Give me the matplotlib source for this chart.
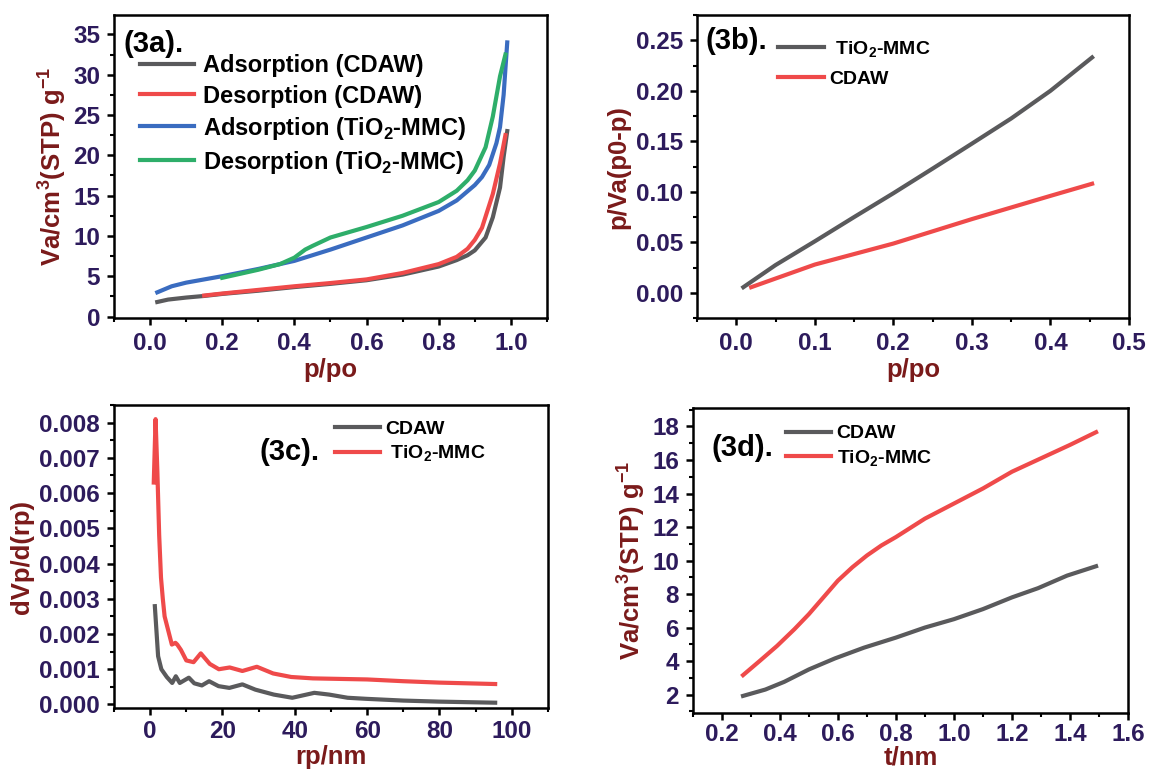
import matplotlib
matplotlib.use("Agg")
import matplotlib.pyplot as plt
from matplotlib.ticker import AutoMinorLocator

plt.rcParams['font.family'] = ['Liberation Sans', 'DejaVu Sans']
plt.rcParams['mathtext.fontset'] = 'custom'
plt.rcParams['mathtext.rm'] = 'Liberation Sans'
plt.rcParams['mathtext.bf'] = 'Liberation Sans:bold'

# ---- (3a) isotherms ----
ads_cdaw_x = [0.02, 0.05, 0.10, 0.15, 0.20, 0.30, 0.40, 0.50, 0.60, 0.70, 0.80, 0.85, 0.88, 0.90, 0.93, 0.95, 0.97, 0.98, 0.99]
ads_cdaw_y = [1.8, 2.1, 2.35, 2.55, 2.8, 3.2, 3.65, 4.05, 4.5, 5.2, 6.2, 7.0, 7.6, 8.2, 9.8, 12.3, 16.0, 19.8, 23.0]
des_cdaw_x = [0.15, 0.20, 0.30, 0.40, 0.50, 0.60, 0.70, 0.80, 0.85, 0.88, 0.90, 0.92, 0.95, 0.97, 0.985]
des_cdaw_y = [2.6, 2.85, 3.3, 3.75, 4.15, 4.6, 5.4, 6.5, 7.4, 8.4, 9.5, 11.0, 15.2, 19.0, 22.5]
ads_tio2_x = [0.02, 0.06, 0.10, 0.20, 0.30, 0.40, 0.50, 0.60, 0.70, 0.80, 0.85, 0.90, 0.92, 0.94, 0.96, 0.97, 0.98, 0.99]
ads_tio2_y = [3.0, 3.75, 4.2, 5.0, 5.9, 6.9, 8.3, 9.8, 11.3, 13.1, 14.4, 16.3, 17.3, 18.8, 21.5, 23.5, 27.5, 34.0]
des_tio2_x = [0.20, 0.30, 0.36, 0.40, 0.43, 0.45, 0.50, 0.60, 0.70, 0.80, 0.85, 0.88, 0.90, 0.93, 0.95, 0.97, 0.985]
des_tio2_y = [4.8, 5.8, 6.5, 7.3, 8.3, 8.75, 9.8, 11.1, 12.5, 14.2, 15.6, 16.9, 18.1, 21.0, 24.8, 29.8, 32.5]

# ---- (3b) BET ----
bet_tio2_x = [0.009, 0.05, 0.10, 0.15, 0.20, 0.25, 0.30, 0.35, 0.40, 0.453]
bet_tio2_y = [0.0056, 0.0275, 0.051, 0.075, 0.0986, 0.123, 0.1477, 0.1726, 0.200, 0.233]
bet_cdaw_x = [0.019, 0.10, 0.20, 0.30, 0.40, 0.453]
bet_cdaw_y = [0.0056, 0.028, 0.0488, 0.073, 0.096, 0.108]

# ---- (3c) BJH ----
bjh_tio2_x = [1.0, 1.5, 2.0, 2.5, 3.0, 3.5, 4.0, 5.0, 6.0, 7.0, 7.5, 8.5, 10, 12, 14, 16.5, 19, 22, 25.5, 29.5, 34, 39, 45, 60, 70, 80, 95.4]
bjh_tio2_y = [0.0063, 0.0081, 0.0066, 0.0048, 0.0036, 0.0030, 0.0025, 0.0021, 0.0017, 0.00175, 0.0017, 0.00155,
              0.00125, 0.00120, 0.00145, 0.00115, 0.00100, 0.00105, 0.00095, 0.00107, 0.00088, 0.00078, 0.00074,
              0.00071, 0.00066, 0.00062, 0.00058]
bjh_cdaw_x = [1.3, 2.2, 3.1, 4.6, 6.1, 7.1, 8.2, 10.7, 12.2, 14.3, 16.3, 18.9, 21.9, 25.5, 29.1, 34.2, 39.3, 45.4, 49.5, 54.6, 59.7, 70, 80, 95.4]
bjh_cdaw_y = [0.00279, 0.00137, 0.0010, 0.00078, 0.00061, 0.0008, 0.00061, 0.00076, 0.0006, 0.00054, 0.00066,
              0.00052, 0.00047, 0.00057, 0.00042, 0.00028, 0.00019, 0.00033, 0.00028, 0.00019, 0.00016, 0.00011,
              0.00008, 0.00005]

# ---- (3d) t-plot ----
t_tio2_x = [0.273, 0.33, 0.39, 0.45, 0.50, 0.55, 0.60, 0.65, 0.70, 0.75, 0.80, 0.90, 1.00, 1.10, 1.20, 1.30, 1.40, 1.49]
t_tio2_y = [3.16, 4.0, 4.9, 5.9, 6.8, 7.8, 8.8, 9.6, 10.3, 10.9, 11.4, 12.5, 13.4, 14.3, 15.3, 16.1, 16.9, 17.66]
t_cdaw_x = [0.273, 0.35, 0.415, 0.50, 0.59, 0.69, 0.80, 0.90, 1.00, 1.10, 1.20, 1.29, 1.39, 1.49]
t_cdaw_y = [1.92, 2.3, 2.76, 3.5, 4.16, 4.8, 5.4, 6.0, 6.5, 7.1, 7.8, 8.35, 9.1, 9.66]

GRAY = '#5a5a5c'
RED = '#ef4a4a'
BLUE = '#3a6cc0'
GREEN = '#2eae6a'
TICKC = '#2d1b5c'
LABC = '#7a1a1a'
TIO2 = r'TiO$_{\mathbf{2}}$-MMC'
VA = r'Va/cm$^{\mathbf{3}}$(STP) g$^{\mathbf{-1}}$'
LW = 3.0

fig = plt.figure(figsize=(11.49, 7.74), dpi=100)


def style(ax, xlabel, ylabel, xpad=5, xlabelpad=2):
    for s in ax.spines.values():
        s.set_linewidth(1.8)
    ax.xaxis.set_minor_locator(AutoMinorLocator(2))
    ax.yaxis.set_minor_locator(AutoMinorLocator(2))
    ax.tick_params(which='major', direction='out', length=5, width=1.8, pad=5,
                   labelsize=17.5, labelcolor=TICKC, top=False, right=False)
    ax.tick_params(axis='x', pad=xpad)
    ax.tick_params(which='minor', direction='out', length=3, width=1.5, top=False, right=False)
    for lab in ax.get_xticklabels() + ax.get_yticklabels():
        lab.set_fontweight('bold')
    ax.set_xlabel(xlabel, fontsize=18.5, fontweight='bold', color=LABC, labelpad=xlabelpad)
    ax.set_ylabel(ylabel, fontsize=18.5, fontweight='bold', color=LABC, labelpad=4)


# (3a)
ax = fig.add_axes([0.0992, 0.589, 0.3768, 0.3916])
ax.plot(ads_cdaw_x, ads_cdaw_y, color=GRAY, lw=LW, label='Adsorption (CDAW)')
ax.plot(des_cdaw_x, des_cdaw_y, color=RED, lw=LW, label='Desorption (CDAW)')
ax.plot(ads_tio2_x, ads_tio2_y, color=BLUE, lw=LW, label='Adsorption (' + TIO2 + ')')
ax.plot(des_tio2_x, des_tio2_y, color=GREEN, lw=LW, label='Desorption (' + TIO2 + ')')
ax.set_xlim(-0.1, 1.1)
ax.set_ylim(-0.2, 37.4)
ax.set_xticks([0.0, 0.2, 0.4, 0.6, 0.8, 1.0])
ax.set_yticks(range(0, 36, 5))
style(ax, 'p/po', VA)
ax.legend(loc='upper left', bbox_to_anchor=(0.06, 0.87), frameon=False, borderpad=0, borderaxespad=0,
          handlelength=2.3, handletextpad=0.35, labelspacing=0.3, prop={'weight': 'bold', 'size': 17})
ax.text(0.023, 0.905, '(3a).', transform=ax.transAxes, fontsize=21, fontweight='bold', va='center')

# (3b)
ax = fig.add_axes([0.6066, 0.589, 0.376, 0.3916])
ax.plot(bet_tio2_x, bet_tio2_y, color=GRAY, lw=LW, label=' ' + TIO2)
ax.plot(bet_cdaw_x, bet_cdaw_y, color=RED, lw=LW, label='CDAW')
ax.set_xlim(-0.05, 0.5)
ax.set_ylim(-0.025, 0.275)
ax.set_xticks([0.0, 0.1, 0.2, 0.3, 0.4, 0.5])
ax.set_yticks([0.0, 0.05, 0.10, 0.15, 0.20, 0.25])
ax.set_yticklabels(['0.00', '0.05', '0.10', '0.15', '0.20', '0.25'])
style(ax, 'p/po', 'p/Va(p0-p)')
ax.legend(loc='upper left', bbox_to_anchor=(0.1875, 0.92), frameon=False, borderpad=0, borderaxespad=0,
          handlelength=2.35, handletextpad=0.3, labelspacing=0.55, prop={'weight': 'bold', 'size': 14})
ax.text(0.019, 0.915, '(3b).', transform=ax.transAxes, fontsize=21, fontweight='bold', va='center')

# (3c)
ax = fig.add_axes([0.0992, 0.0853, 0.3777, 0.3914])
ax.plot(bjh_cdaw_x, bjh_cdaw_y, color=GRAY, lw=LW, label='CDAW')
ax.plot(bjh_tio2_x, bjh_tio2_y, color=RED, lw=LW, label=' ' + TIO2)
ax.set_xlim(-10, 110)
ax.set_ylim(-0.0001, 0.0085)
ax.set_xticks([0, 20, 40, 60, 80, 100])
ax.set_yticks([i * 0.001 for i in range(9)])
ax.set_yticklabels(['%.3f' % (i * 0.001) for i in range(9)])
style(ax, 'rp/nm', 'dVp/d(rp)', xpad=4, xlabelpad=1)
ax.legend(loc='upper left', bbox_to_anchor=(0.509, 0.95), frameon=False, borderpad=0, borderaxespad=0,
          handlelength=2.3, handletextpad=0.3, labelspacing=0.3, prop={'weight': 'bold', 'size': 14})
ax.text(0.336, 0.845, '(3c).', transform=ax.transAxes, fontsize=21, fontweight='bold', va='center')

# (3d)
ax = fig.add_axes([0.603, 0.0788, 0.3787, 0.394])
ax.plot(t_cdaw_x, t_cdaw_y, color=GRAY, lw=LW, label='CDAW')
ax.plot(t_tio2_x, t_tio2_y, color=RED, lw=LW, label=TIO2)
ax.set_xlim(0.1, 1.6)
ax.set_ylim(0.9, 19.1)
ax.set_xticks([0.2, 0.4, 0.6, 0.8, 1.0, 1.2, 1.4, 1.6])
ax.set_yticks(range(2, 19, 2))
style(ax, 't/nm', VA, xpad=2, xlabelpad=0)
ax.legend(loc='upper left', bbox_to_anchor=(0.214, 0.945), frameon=False, borderpad=0, borderaxespad=0,
          handlelength=2.3, handletextpad=0.3, labelspacing=0.3, prop={'weight': 'bold', 'size': 14})
ax.text(0.044, 0.869, '(3d).', transform=ax.transAxes, fontsize=21, fontweight='bold', va='center')

fig.savefig('out.png', dpi=100)
